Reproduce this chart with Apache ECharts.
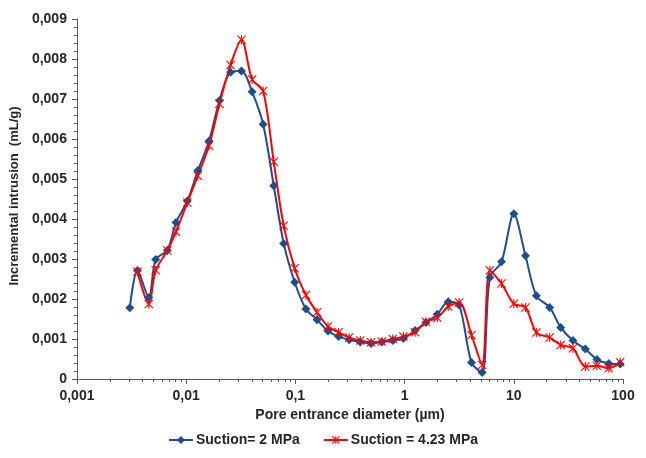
<!DOCTYPE html>
<html>
<head>
<meta charset="utf-8">
<script src="https://cdn.jsdelivr.net/npm/echarts@6/dist/echarts.min.js"></script>
<style>html,body{margin:0;padding:0;background:#fff;}#c{width:646px;height:458px;}</style>
</head>
<body>
<div id="c"></div>
<script>
// Pore entrance diameter (µm)
var diameters = [0.00305, 0.00358, 0.00455, 0.00526, 0.00673, 0.00807, 0.01025, 0.0128, 0.0162, 0.0202,
  0.0255, 0.0321, 0.0402, 0.0507, 0.0634, 0.0782, 0.0986, 0.125, 0.158, 0.199,
  0.249, 0.311, 0.393, 0.494, 0.619, 0.78, 0.975, 1.247, 1.57, 1.995,
  2.51, 3.16, 4.1, 5.13, 6.04, 7.72, 10.0, 12.8, 16.1, 21.3,
  26.9, 34.8, 45.2, 57.7, 74.2, 94.2];
// Suction = 2 MPa (mL/g)
var suction2 = [0.00178, 0.00271, 0.00204, 0.00299, 0.00322, 0.00391, 0.00445, 0.00521, 0.00595, 0.00696,
  0.00767, 0.00770, 0.00718, 0.00637, 0.00483, 0.00339, 0.00242, 0.00175, 0.00148, 0.00120,
  0.00106, 0.00098, 0.000925, 0.00089, 0.000925, 0.00096, 0.00101, 0.00121, 0.00141, 0.00162,
  0.00193, 0.00185, 0.00041, 0.00016, 0.00254, 0.00293, 0.00413, 0.00308, 0.00208, 0.00179,
  0.00129, 0.00096, 0.00075, 0.00049, 0.00039, 0.000375];
// Suction = 4.23 MPa (mL/g), starts at the 2nd diameter
var suction423 = [null, 0.00268, 0.001875, 0.00272, 0.00321, 0.00368, 0.00441, 0.00508, 0.00583, 0.00688,
  0.00785, 0.00848, 0.00749, 0.00720, 0.00543, 0.00383, 0.00277, 0.00210, 0.00167, 0.00131,
  0.00117, 0.00104, 0.00096, 0.00092, 0.00094, 0.00100, 0.00106, 0.00117, 0.00143, 0.00153,
  0.00181, 0.00191, 0.00110, 0.00035, 0.00271, 0.00239, 0.00188, 0.00179, 0.00116, 0.00104,
  0.00085, 0.00077, 0.00031, 0.00033, 0.00027, 0.00042];
var xMinorTicks = [0.002,0.003,0.004,0.005,0.006,0.007,0.008,0.009,
  0.02,0.03,0.04,0.05,0.06,0.07,0.08,0.09,
  0.2,0.3,0.4,0.5,0.6,0.7,0.8,0.9,
  2,3,4,5,6,7,8,9, 20,30,40,50,60,70,80,90];
var seriesNames = ['Suction= 2 MPa', 'Suction = 4.23 MPa'];

function pairs(xs, ys) {
  var out = [];
  for (var i = 0; i < xs.length; i++) if (ys[i] != null) out.push([xs[i], ys[i]]);
  return out;
}
var asterisk = 'path://M4.4,0 L5.6,0 L5.6,10 L4.4,10 Z M0,0.85 L0.85,0 L10,9.15 L9.15,10 Z M10,0.85 L9.15,0 L0,9.15 L0.85,10 Z';
var font = 'Liberation Sans';
var txt = '#262626';
var fs = 14;
var chart = echarts.init(document.getElementById('c'), null, {renderer: 'canvas'});
chart.setOption({
  animation: false,
  backgroundColor: '#fff',
  textStyle: {fontFamily: font},
  grid: {left: 76, right: 23, top: 19, bottom: 79, containLabel: false},
  legend: {
    left: 'center', top: 428, itemGap: 23, itemWidth: 24, itemHeight: 10,
    textStyle: {fontFamily: font, fontWeight: 'bold', fontSize: fs, color: txt, padding: [0, 0, 0, -2]},
    data: seriesNames
  },
  xAxis: [{
    type: 'log', logBase: 10, min: 0.001, max: 100,
    name: 'Pore entrance diameter (µm)', nameLocation: 'middle', nameGap: 28,
    nameTextStyle: {fontFamily: font, fontWeight: 'bold', fontSize: fs, color: txt},
    axisLine: {lineStyle: {color: '#595959', width: 1}},
    axisTick: {show: true, length: 5, inside: false, lineStyle: {color: '#595959'}},
    axisLabel: {fontFamily: font, fontWeight: 'bold', fontSize: fs, color: txt, margin: 10,
      formatter: function (v) { return String(Number(v.toPrecision(6))).replace('.', ','); }},
    splitLine: {show: false}
  }, {
    type: 'log', logBase: 10, min: 0.001, max: 100, position: 'bottom',
    axisLine: {show: false},
    axisTick: {show: true, length: 3, customValues: xMinorTicks, lineStyle: {color: '#595959'}},
    axisLabel: {show: false},
    splitLine: {show: false}
  }],
  yAxis: {
    type: 'value', min: 0, max: 0.009, interval: 0.001,
    name: 'Incremental intrusion  (mL/g)', nameLocation: 'middle', nameGap: 43,
    nameTextStyle: {fontFamily: font, fontWeight: 'bold', fontSize: 13, color: txt, padding: [0, 0, 0, 6]},
    axisLine: {show: true, lineStyle: {color: '#595959', width: 1}},
    axisTick: {show: true, length: 5, lineStyle: {color: '#595959'}},
    minorTick: {show: true, splitNumber: 5, length: 3, lineStyle: {color: '#595959'}},
    axisLabel: {fontFamily: font, fontWeight: 'bold', fontSize: fs, color: txt, margin: 10,
      formatter: function (v) { return v === 0 ? '0' : v.toFixed(3).replace('.', ','); }},
    splitLine: {show: false}
  },
  series: [{
    name: seriesNames[0], type: 'line', xAxisIndex: 0,
    data: pairs(diameters, suction2),
    smooth: 0.3, symbol: 'diamond', symbolSize: 9,
    lineStyle: {color: '#1F4E8C', width: 2},
    itemStyle: {color: '#1F4E8C'}
  }, {
    name: seriesNames[1], type: 'line', xAxisIndex: 0,
    data: pairs(diameters, suction423),
    smooth: 0.3, symbol: asterisk, symbolSize: 9,
    lineStyle: {color: '#FF0000', width: 2},
    itemStyle: {color: '#FF0000'}
  }]
});
</script>
</body>
</html>
